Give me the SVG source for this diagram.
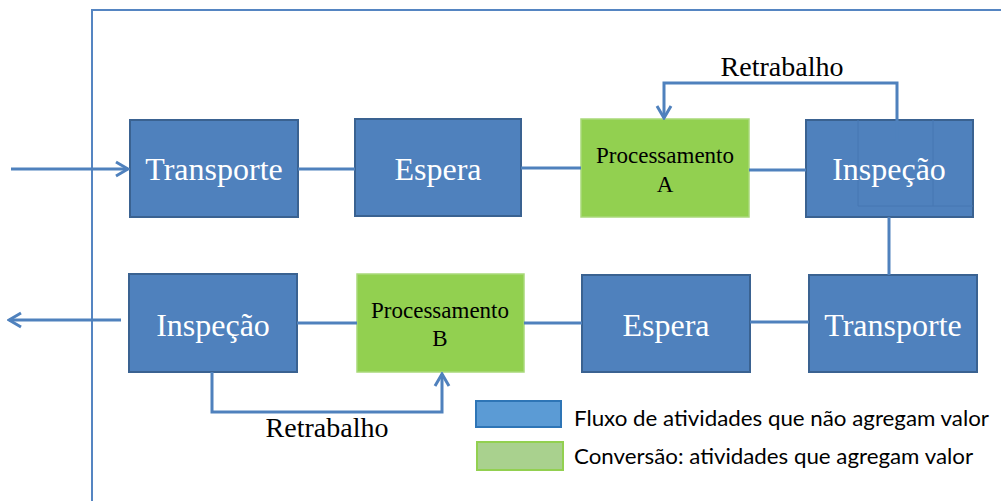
<svg xmlns="http://www.w3.org/2000/svg" width="1001" height="501" viewBox="0 0 1001 501">
<style>
.blue{fill:#4f81bd;stroke:#3a6291;stroke-width:2}
.green{fill:#92d050;stroke:#a9d97a;stroke-width:1.5}
.bt{font-family:"Liberation Serif","Times New Roman",serif;font-size:32px;fill:#ffffff;text-anchor:middle}
.gt{font-family:"Liberation Serif","Times New Roman",serif;font-size:23px;fill:#000000;text-anchor:middle}
.lbl{font-family:"Liberation Serif","Times New Roman",serif;font-size:28px;fill:#000000;text-anchor:middle}
.leg{font-family:Lato,"Open Sans","Liberation Sans",sans-serif;font-size:22px;fill:#000000}
.con{fill:none;stroke:#4f81bd;stroke-width:3}
.frame{fill:none;stroke:#5585c2;stroke-width:2}
</style>
<defs>
<marker id="arr" markerUnits="userSpaceOnUse" viewBox="0 0 16 18" refX="14" refY="9" markerWidth="16" markerHeight="18" orient="auto">
<path d="M2,2 L14,9 L2,16" fill="none" stroke="#4f81bd" stroke-width="3"/>
</marker>
</defs>
<rect width="1001" height="501" fill="#ffffff"/>
<path class="frame" d="M92,501 V10 H1001"/>
<g id="transporte-top"><rect class="blue" x="130" y="120" width="168" height="97"/><text class="bt" x="214" y="180">Transporte</text></g>
<g id="espera-top"><rect class="blue" x="355" y="119" width="166" height="97"/><text class="bt" x="438" y="180">Espera</text></g>
<g id="processamento-a"><rect class="green" x="581" y="119" width="168" height="98"/><text class="gt" x="665" y="163">Processamento</text><text class="gt" x="665" y="192">A</text></g>
<g id="inspecao-top"><rect class="blue" x="806" y="120" width="167" height="97"/>
<path d="M858,120 V206 H973 M933,120 V206" fill="none" stroke="#4777b2" stroke-width="1"/>
<text class="bt" x="889" y="180">Inspeção</text></g>
<g id="inspecao-bottom"><rect class="blue" x="129" y="274" width="168" height="98"/><text class="bt" x="213" y="336">Inspeção</text></g>
<g id="processamento-b"><rect class="green" x="357" y="274" width="167" height="98"/><text class="gt" x="440" y="318">Processamento</text><text class="gt" x="440" y="346">B</text></g>
<g id="espera-bottom"><rect class="blue" x="582" y="275" width="168" height="97"/><text class="bt" x="666" y="336">Espera</text></g>
<g id="transporte-bottom"><rect class="blue" x="809" y="275" width="168" height="97"/><text class="bt" x="893" y="336">Transporte</text></g>
<g id="connectors">
<path class="con" d="M11,169 H128" marker-end="url(#arr)"/>
<path class="con" d="M298,169 H355"/>
<path class="con" d="M521,168 H581"/>
<path class="con" d="M749,170 H806"/>
<path class="con" d="M897,140 V83 H664 V118" marker-end="url(#arr)"/>
<path class="con" d="M889,217 V275"/>
<path class="con" d="M750,322 H809"/>
<path class="con" d="M524,323 H582"/>
<path class="con" d="M297,323 H357"/>
<path class="con" d="M121,320 H9" marker-end="url(#arr)"/>
<path class="con" d="M212,372 V412 H442 V374" marker-end="url(#arr)"/>
</g>
<text class="lbl" x="782" y="76">Retrabalho</text>
<text class="lbl" x="327" y="437">Retrabalho</text>
<g id="legend">
<rect x="476" y="401" width="85" height="26" fill="#5b9bd5" stroke="#2e75b6" stroke-width="2"/>
<rect x="477" y="442" width="86" height="28" fill="#a9d18e" stroke="#92d050" stroke-width="2"/>
<text class="leg" x="574" y="426" textLength="415" lengthAdjust="spacingAndGlyphs">Fluxo de atividades que não agregam valor</text>
<text class="leg" x="574" y="464" textLength="399" lengthAdjust="spacingAndGlyphs">Conversão: atividades que agregam valor</text>
</g>
</svg>
